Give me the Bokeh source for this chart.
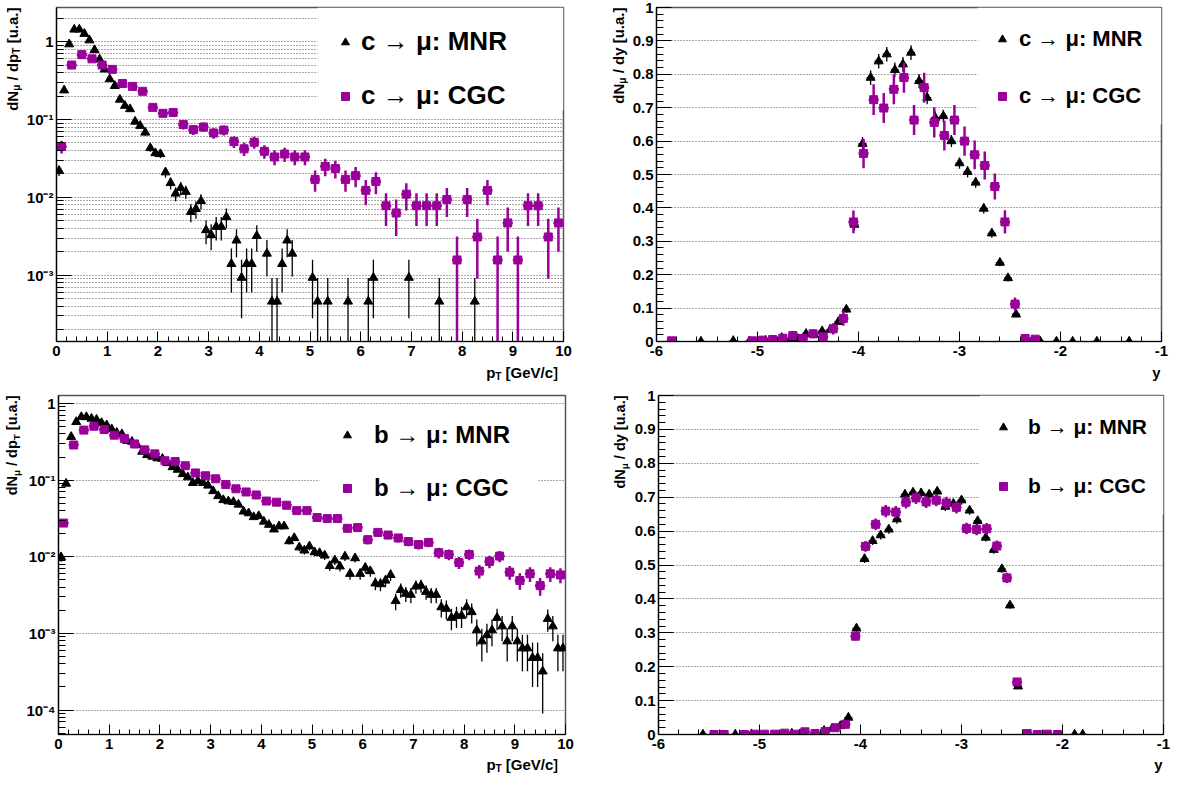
from math import pi
from bokeh.plotting import figure
from bokeh.layouts import row, column
from bokeh.models import (Range1d, FixedTicker, CustomJSTickFormatter, NumeralTickFormatter,
                          Label, Legend, LegendItem, BoxAnnotation)
from bokeh.embed import file_html
from bokeh.resources import INLINE

FONT = "Liberation Sans"
MAG = "#990099"
GRIDC = "#555555"

# ---------------- data: c -> mu, pT ----------------
c_pt_mnr_x = [0.05, 0.15, 0.25, 0.35, 0.45, 0.55, 0.65, 0.75, 0.85, 0.95, 1.05, 1.15, 1.25, 1.35,
              1.45, 1.55, 1.65, 1.75, 1.85, 1.95, 2.05, 2.15, 2.25, 2.35, 2.45, 2.55, 2.65, 2.75,
              2.85, 2.95, 3.05, 3.15, 3.25, 3.35, 3.45, 3.55, 3.65, 3.75, 3.85, 3.95, 4.15, 4.25,
              4.35, 4.45, 4.55, 4.65, 5.05, 5.15, 5.35, 5.75, 6.15, 6.25, 6.95, 7.55, 8.25]
c_pt_mnr_y = [0.022, 0.237, 0.925, 1.43, 1.43, 1.26, 1.04, 0.78, 0.59, 0.44, 0.33, 0.27, 0.18, 0.15,
              0.136, 0.094, 0.083, 0.068, 0.043, 0.037, 0.036, 0.021, 0.0153, 0.0112, 0.0132, 0.0118,
              0.0065, 0.0071, 0.0090, 0.0038, 0.0033, 0.0042, 0.0042, 0.0056, 0.0014, 0.0028, 0.00093,
              0.0014, 0.0014, 0.0032, 0.0019, 0.00046, 0.00046, 0.0014, 0.0028, 0.0019, 0.00093,
              0.00046, 0.00046, 0.00046, 0.00046, 0.00093, 0.00093, 0.00046, 0.00046]
c_pt_mnr_err = [0.0032, 0.0104, 0.0206, 0.0256, 0.0256, 0.024, 0.022, 0.019, 0.0165, 0.0142, 0.0123,
                0.011, 0.0091, 0.0083, 0.0079, 0.0066, 0.0062, 0.0056, 0.0044, 0.0041, 0.0041, 0.0031,
                0.0027, 0.0023, 0.0025, 0.0023, 0.0017, 0.0018, 0.002, 0.0013, 0.0012, 0.0014, 0.0014,
                0.0016, 0.0008, 0.0011, 0.00065, 0.0008, 0.0008, 0.0012, 0.00094, 0.00046, 0.00046,
                0.0008, 0.0011, 0.00094, 0.00065, 0.00046, 0.00046, 0.00046, 0.00046, 0.00065, 0.00065,
                0.00046, 0.00046]

c_pt_cgc_x = [0.1, 0.3, 0.5, 0.7, 0.9, 1.1, 1.3, 1.5, 1.7, 1.9, 2.1, 2.3, 2.5, 2.7, 2.9, 3.1, 3.3,
              3.5, 3.7, 3.9, 4.1, 4.3, 4.5, 4.7, 4.9, 5.1, 5.3, 5.5, 5.7, 5.9, 6.1, 6.3, 6.5, 6.7,
              6.9, 7.1, 7.3, 7.5, 7.7, 7.9, 8.1, 8.3, 8.5, 8.7, 8.9, 9.1, 9.3, 9.5, 9.7, 9.9]
c_pt_cgc_y = [0.045, 0.50, 0.68, 0.60, 0.50, 0.44, 0.29, 0.266, 0.23, 0.143, 0.12, 0.123, 0.086,
              0.074, 0.080, 0.067, 0.073, 0.052, 0.042, 0.051, 0.039, 0.033, 0.036, 0.033, 0.033,
              0.017, 0.025, 0.0235, 0.017, 0.019, 0.0123, 0.016, 0.0078, 0.0063, 0.011, 0.0078,
              0.0078, 0.0078, 0.0094, 0.00157, 0.0094, 0.0031, 0.0123, 0.00157, 0.0047, 0.00157,
              0.0078, 0.0078, 0.0031, 0.0047]
c_pt_cgc_err = [0.0084, 0.028, 0.033, 0.031, 0.028, 0.026, 0.021, 0.020, 0.019, 0.015, 0.0137,
                0.0139, 0.0116, 0.0108, 0.0112, 0.0103, 0.0107, 0.009, 0.0081, 0.0089, 0.0078,
                0.0072, 0.0075, 0.0072, 0.0072, 0.0052, 0.0063, 0.0061, 0.0052, 0.0055, 0.0044,
                0.005, 0.0035, 0.0031, 0.0042, 0.0035, 0.0035, 0.0035, 0.0038, 0.00157, 0.0038,
                0.0022, 0.0044, 0.00157, 0.0027, 0.00157, 0.0035, 0.0035, 0.0022, 0.0027]

# ---------------- data: c -> mu, y ----------------
c_y_mnr_x = [-5.56, -5.24, -5.08, -4.92, -4.84, -4.76, -4.68, -4.60, -4.52, -4.44, -4.36, -4.28,
             -4.20, -4.12, -4.04, -3.96, -3.88, -3.80, -3.72, -3.64, -3.56, -3.48, -3.40, -3.32,
             -3.24, -3.16, -3.08, -3.00, -2.92, -2.84, -2.76, -2.68, -2.60, -2.52, -2.44, -2.36,
             -2.28, -2.20, -2.04, -1.88, -1.64, -1.32]
c_y_mnr_y = [0.0, 0.002, 0.001, 0.003, 0.002, 0.011, 0.005, 0.008, 0.023, 0.020, 0.031, 0.035,
             0.059, 0.096, 0.350, 0.592, 0.790, 0.839, 0.860, 0.813, 0.830, 0.865, 0.780, 0.730,
             0.670, 0.675, 0.600, 0.534, 0.508, 0.476, 0.398, 0.324, 0.236, 0.190, 0.081, 0.006,
             0.003, 0.0, 0.0, 0.0, 0.0, 0.0]
c_y_mnr_err = [0.001, 0.002, 0.001, 0.002, 0.002, 0.004, 0.003, 0.003, 0.005, 0.005, 0.006, 0.007,
               0.008, 0.010, 0.018, 0.020, 0.022, 0.022, 0.022, 0.022, 0.022, 0.022, 0.021, 0.020,
               0.019, 0.019, 0.018, 0.017, 0.017, 0.016, 0.015, 0.013, 0.011, 0.010, 0.007, 0.002,
               0.002, 0.001, 0.001, 0.001, 0.001, 0.001]

c_y_cgc_x = [-5.85, -5.05, -4.95, -4.85, -4.75, -4.65, -4.55, -4.45, -4.35, -4.25, -4.15, -4.05,
             -3.95, -3.85, -3.75, -3.65, -3.55, -3.45, -3.35, -3.25, -3.15, -3.05, -2.95, -2.85,
             -2.75, -2.65, -2.55, -2.45, -2.35, -2.25]
c_y_cgc_y = [0.002, 0.002, 0.004, 0.006, 0.010, 0.018, 0.009, 0.023, 0.014, 0.038, 0.069, 0.358,
             0.563, 0.724, 0.699, 0.755, 0.790, 0.663, 0.760, 0.656, 0.617, 0.663, 0.600, 0.559,
             0.527, 0.464, 0.358, 0.112, 0.009, 0.007]
c_y_cgc_err = [0.004, 0.004, 0.006, 0.007, 0.009, 0.012, 0.009, 0.013, 0.011, 0.017, 0.022, 0.034,
               0.044, 0.046, 0.045, 0.045, 0.045, 0.045, 0.045, 0.045, 0.045, 0.045, 0.044, 0.043,
               0.042, 0.039, 0.035, 0.020, 0.005, 0.004]

# ---------------- data: b -> mu, pT ----------------
b_pt_mnr_x = [0.05, 0.15, 0.25, 0.35, 0.45, 0.55, 0.65, 0.75, 0.85, 0.95, 1.05, 1.15, 1.25, 1.35,
              1.45, 1.55, 1.65, 1.75, 1.85, 1.95, 2.05, 2.15, 2.25, 2.35, 2.45, 2.55, 2.65, 2.75,
              2.85, 2.95, 3.05, 3.15, 3.25, 3.35, 3.45, 3.55, 3.65, 3.75, 3.85, 3.95, 4.05, 4.15,
              4.25, 4.35, 4.45, 4.55, 4.65, 4.75, 4.85, 4.95, 5.05, 5.15, 5.25, 5.35, 5.45, 5.55,
              5.65, 5.75, 5.85, 5.95, 6.05, 6.15, 6.25, 6.35, 6.45, 6.55, 6.65, 6.75, 6.85, 6.95,
              7.05, 7.15, 7.25, 7.35, 7.45, 7.55, 7.65, 7.75, 7.85, 7.95, 8.05, 8.15, 8.25, 8.35,
              8.45, 8.55, 8.65, 8.75, 8.85, 8.95, 9.05, 9.15, 9.25, 9.35, 9.45, 9.55, 9.65, 9.75,
              9.85, 9.95]
b_pt_mnr_y = [0.0099, 0.090, 0.367, 0.574, 0.666, 0.666, 0.634, 0.616, 0.557, 0.52, 0.462, 0.414,
              0.398, 0.327, 0.317, 0.287, 0.235, 0.213, 0.203, 0.193, 0.19, 0.167, 0.148, 0.137,
              0.12, 0.109, 0.092, 0.098, 0.092, 0.085, 0.072, 0.062, 0.055, 0.053, 0.052, 0.048,
              0.039, 0.037, 0.033, 0.034, 0.0288, 0.0262, 0.0228, 0.025, 0.025, 0.016, 0.0176,
              0.0133, 0.0121, 0.0137, 0.0115, 0.0112, 0.0104, 0.0076, 0.0090, 0.0075, 0.0101,
              0.006, 0.0096, 0.006, 0.0072, 0.0065, 0.0045, 0.0044, 0.0049, 0.0058, 0.00265,
              0.0037, 0.0033, 0.0032, 0.0041, 0.0042, 0.0035, 0.0032, 0.0032, 0.0022, 0.0021,
              0.0016, 0.0017, 0.0017, 0.0022, 0.0019, 0.0011, 0.00079, 0.00095, 0.0011, 0.0016,
              0.00124, 0.00079, 0.00124, 0.00079, 0.00064, 0.00064, 0.00048, 0.00048, 0.00032,
              0.00155, 0.00124, 0.00064, 0.00064]
b_pt_mnr_err = [0.00126, 0.0038, 0.0077, 0.0096, 0.0103, 0.0103, 0.0101, 0.0099, 0.0094, 0.0091,
                0.0086, 0.0081, 0.008, 0.0072, 0.0071, 0.0068, 0.0061, 0.0058, 0.0057, 0.0056,
                0.0055, 0.0052, 0.0049, 0.0047, 0.0044, 0.0042, 0.0038, 0.004, 0.0038, 0.0037,
                0.0034, 0.0031, 0.003, 0.0029, 0.0029, 0.0028, 0.0025, 0.0024, 0.0023, 0.0023,
                0.0021, 0.002, 0.0019, 0.002, 0.002, 0.0016, 0.0017, 0.0015, 0.0014, 0.0015,
                0.0014, 0.0013, 0.0013, 0.0011, 0.0012, 0.0011, 0.0013, 0.001, 0.0012, 0.001,
                0.0011, 0.001, 0.00085, 0.00084, 0.00089, 0.00096, 0.00065, 0.00077, 0.00073,
                0.00072, 0.00081, 0.00082, 0.00075, 0.00072, 0.00072, 0.00059, 0.00058, 0.0005,
                0.00052, 0.00052, 0.00059, 0.00055, 0.00042, 0.00036, 0.00039, 0.00042, 0.0005,
                0.00045, 0.00036, 0.00045, 0.00036, 0.00032, 0.00032, 0.00028, 0.00028, 0.00023,
                0.0005, 0.00045, 0.00032, 0.00032]

b_pt_cgc_x = [0.1, 0.3, 0.5, 0.7, 0.9, 1.1, 1.3, 1.5, 1.7, 1.9, 2.1, 2.3, 2.5, 2.7, 2.9, 3.1, 3.3,
              3.5, 3.7, 3.9, 4.1, 4.3, 4.5, 4.7, 4.9, 5.1, 5.3, 5.5, 5.7, 5.9, 6.1, 6.3, 6.5, 6.7,
              6.9, 7.1, 7.3, 7.5, 7.7, 7.9, 8.1, 8.3, 8.5, 8.7, 8.9, 9.1, 9.3, 9.5, 9.7, 9.9]
b_pt_cgc_y = [0.0275, 0.287, 0.449, 0.505, 0.457, 0.386, 0.35, 0.296, 0.248, 0.22, 0.179, 0.175,
              0.154, 0.124, 0.114, 0.104, 0.0875, 0.077, 0.070, 0.064, 0.0533, 0.0516, 0.047,
              0.040, 0.040, 0.0325, 0.0315, 0.0315, 0.0235, 0.024, 0.0167, 0.0208, 0.0192, 0.0176,
              0.0158, 0.0144, 0.0154, 0.0113, 0.0107, 0.0084, 0.0107, 0.0065, 0.0087, 0.0102,
              0.0063, 0.0049, 0.006, 0.0042, 0.006, 0.0058]
b_pt_cgc_err = [0.0028, 0.009, 0.0112, 0.0119, 0.0113, 0.0104, 0.0099, 0.0091, 0.0083, 0.0078,
                0.0071, 0.007, 0.0066, 0.0059, 0.0056, 0.0054, 0.0049, 0.0046, 0.0044, 0.0042,
                0.0039, 0.0038, 0.0036, 0.0033, 0.0033, 0.003, 0.003, 0.003, 0.0026, 0.0026,
                0.0022, 0.0024, 0.0023, 0.0022, 0.0021, 0.002, 0.0021, 0.0018, 0.0017, 0.0015,
                0.0017, 0.0013, 0.0016, 0.0017, 0.0013, 0.0012, 0.0013, 0.0011, 0.0013, 0.0013]

# ---------------- data: b -> mu, y ----------------
b_y_mnr_x = [-5.56, -5.24, -5.08, -4.68, -4.60, -4.36, -4.28, -4.20, -4.12, -4.04, -3.96, -3.88,
             -3.80, -3.72, -3.64, -3.56, -3.48, -3.40, -3.32, -3.24, -3.16, -3.08, -3.00, -2.92,
             -2.84, -2.76, -2.68, -2.60, -2.52, -2.44, -1.88, -1.80]
b_y_mnr_y = [0.0, 0.0, 0.001, 0.003, 0.001, 0.011, 0.018, 0.025, 0.050, 0.313, 0.518, 0.571,
             0.588, 0.605, 0.635, 0.708, 0.714, 0.712, 0.708, 0.717, 0.672, 0.681, 0.691, 0.661,
             0.630, 0.581, 0.545, 0.488, 0.381, 0.142, 0.0, 0.0]
b_y_mnr_err = [0.001, 0.001, 0.001, 0.002, 0.001, 0.003, 0.004, 0.004, 0.006, 0.010, 0.012, 0.012,
               0.013, 0.013, 0.013, 0.013, 0.013, 0.013, 0.013, 0.013, 0.013, 0.013, 0.013, 0.013,
               0.012, 0.012, 0.012, 0.011, 0.010, 0.006, 0.001, 0.001]

b_y_cgc_x = [-5.45, -5.35, -5.15, -5.05, -4.95, -4.85, -4.75, -4.65, -4.55, -4.45, -4.35, -4.25,
             -4.15, -4.05, -3.95, -3.85, -3.75, -3.65, -3.55, -3.45, -3.35, -3.25, -3.15, -3.05,
             -2.95, -2.85, -2.75, -2.65, -2.55, -2.45, -2.35, -2.25, -2.15, -2.05]
b_y_cgc_y = [0.0, 0.0, 0.0, 0.001, 0.001, 0.001, 0.004, 0.001, 0.008, 0.003, 0.009, 0.020, 0.030,
             0.290, 0.555, 0.620, 0.659, 0.656, 0.685, 0.698, 0.686, 0.691, 0.683, 0.670, 0.608,
             0.605, 0.607, 0.556, 0.462, 0.155, 0.003, 0.0, 0.001, 0.0]
b_y_cgc_err = [0.001, 0.001, 0.001, 0.001, 0.001, 0.001, 0.002, 0.001, 0.003, 0.002, 0.003, 0.004,
               0.005, 0.012, 0.016, 0.017, 0.018, 0.018, 0.018, 0.018, 0.018, 0.018, 0.018, 0.018,
               0.017, 0.017, 0.017, 0.016, 0.015, 0.009, 0.002, 0.001, 0.001, 0.001]

# bin half widths
PT_MNR_HW, PT_CGC_HW = 0.05, 0.1
Y_MNR_HW, Y_CGC_HW = 0.04, 0.05

legend_c = ["c \u2192 \u03bc: MNR", "c \u2192 \u03bc: CGC"]
legend_b = ["b \u2192 \u03bc: MNR", "b \u2192 \u03bc: CGC"]

# ---------------- helpers ----------------
# Arial/Liberation Sans Bold advance widths (em)
WID = {' ': 0.278, '/': 0.278, '[': 0.333, ']': 0.333, '.': 0.278, 'a': 0.556, 'c': 0.556,
       'd': 0.611, 'e': 0.556, 'p': 0.611, 'u': 0.611, 'y': 0.556, 'G': 0.778, 'N': 0.722,
       'T': 0.611, 'V': 0.667, '\u03bc': 0.611}


def tw(s, size):
    return sum(WID.get(ch, 0.6) for ch in s) * size


LOG_FMT = CustomJSTickFormatter(code=r"""
const e = Math.round(Math.log10(tick));
if (e === 0) { return "1"; }
const s = {"-": "\u207b", "0": "\u2070", "1": "\u00b9", "2": "\u00b2", "3": "\u00b3", "4": "\u2074", "5": "\u2075"};
return "10" + String(e).split("").map(c => s[c]).join("");
""")


def make_fig(xr, yr, log, left, right, top, bottom, fh, fw):
    p = figure(frame_width=fw, frame_height=fh, x_range=Range1d(*xr), y_range=Range1d(*yr),
               y_axis_type="log" if log else "linear", output_backend="svg",
               toolbar_location=None, tools="",
               min_border_left=left, min_border_right=right, min_border_top=top,
               min_border_bottom=bottom)
    p.background_fill_color = "white"
    p.border_fill_color = "white"
    p.outline_line_color = "#555555"
    p.outline_line_width = 1.5
    for ax in (p.xaxis[0], p.yaxis[0]):
        ax.axis_line_color = "black"
        ax.axis_line_width = 1.2
        ax.major_tick_line_color = "black"
        ax.minor_tick_line_color = "black"
        ax.major_tick_out = 0
        ax.minor_tick_out = 0
        ax.major_label_text_font = FONT
        ax.major_label_text_font_style = "bold"
        ax.major_label_text_font_size = "15px"
        ax.major_label_text_color = "black"
    p.xaxis.major_label_standoff = 4
    p.yaxis.major_label_standoff = 3
    p.xaxis.major_tick_in = 10
    p.xaxis.minor_tick_in = 5
    p.yaxis.major_tick_in = 15
    p.yaxis.minor_tick_in = 7
    p.xgrid.visible = False
    p.ygrid.grid_line_color = GRIDC
    p.ygrid.grid_line_dash = "1 2"
    p.ygrid.grid_line_width = 1
    return p


def strip(width, height, xr, yr, bl=0, br=0, bt=0, bb=0):
    s = figure(width=width, height=height, x_range=Range1d(0, xr), y_range=Range1d(0, yr),
               x_axis_location=None, y_axis_location=None, toolbar_location=None, tools="",
               output_backend="svg", min_border_left=bl, min_border_right=br,
               min_border_top=bt, min_border_bottom=bb)
    s.outline_line_color = None
    s.background_fill_color = "white"
    s.border_fill_color = "white"
    s.grid.visible = False
    return s


def draw_series(p, xs, ys, errs, hw, color, marker, size, lw, log):
    lo = [max(y - e, 1e-7) if log else y - e for y, e in zip(ys, errs)]
    hi = [y + e for y, e in zip(ys, errs)]
    p.segment(x0=xs, y0=lo, x1=xs, y1=hi, line_color=color, line_width=lw)
    p.segment(x0=[x - hw for x in xs], y0=ys, x1=[x + hw for x in xs], y1=ys,
              line_color=color, line_width=lw)
    return p.scatter(xs, ys, marker=marker, size=size, fill_color=color, line_color=color)


def rich_label(p, pieces, x, y, size, vertical=False, end=False, sub_shift=4.5):
    sub = size * 0.68
    widths = [tw(t, sub if k == "s" else size) for t, k in pieces]
    pos = (y if vertical else x) - (sum(widths) if end else 0)
    for (t, k), w in zip(pieces, widths):
        fs = sub if k == "s" else size
        sh = sub_shift if k == "s" else 0
        if t.strip():
            common = dict(text=t, text_font=FONT, text_font_style="bold",
                          text_font_size=f"{fs:.1f}px", text_color="black",
                          text_baseline="middle", text_align="left")
            if vertical:
                lab = Label(x=x + sh, y=pos, angle=pi / 2, **common)
            else:
                lab = Label(x=pos, y=y - sh, **common)
            p.add_layout(lab)
        pos += w


def add_legend(p, labels, rends, loc, fsize, standoff, item_h, spacing):
    lg = Legend(items=[LegendItem(label=t, renderers=[r]) for t, r in zip(labels, rends)],
                location=loc, orientation="vertical", glyph_width=20, glyph_height=item_h,
                label_height=item_h, spacing=spacing, padding=0, margin=0,
                label_standoff=standoff, background_fill_alpha=0, border_line_alpha=0,
                label_text_font=FONT, label_text_font_style="bold",
                label_text_font_size=f"{fsize}px", label_text_color="black")
    p.add_layout(lg)


def white_box(p, **kw):
    p.add_layout(BoxAnnotation(fill_color="white", fill_alpha=1.0, line_alpha=0,
                               level="underlay", **kw))


log_major = [1e-4, 1e-3, 1e-2, 1e-1, 1.0]
log_minor = [m * 10.0 ** e for e in range(-5, 1) for m in range(2, 10)]
lin_major = [i / 10 for i in range(11)]
lin_minor = [i / 50 for i in range(51)]
pt_major = list(range(11))
pt_minor = [i / 5 for i in range(51)]
y_major = [-6, -5, -4, -3, -2, -1]
y_minor = [-6 + i / 5 for i in range(26)]

# layout geometry (px)
LW, RW = 507, 505                 # frame widths
L_BL, L_BR = 27, 35               # left panel borders
R_BL, R_BR = 26, 8                # right panel borders
YS_L, YS_R = 23, 31               # y-title strips
TOP_T, TOP_H, TOP_B, TOP_X = 7, 334, 22, 20
BOT_T, BOT_H, BOT_B, BOT_X = 12, 339, 22, 18
TOP_FIG = TOP_T + TOP_H + TOP_B
BOT_FIG = BOT_T + BOT_H + BOT_B

PT_TITLE = [("p", "n"), ("T", "s"), (" ", "n"), ("[GeV/c]", "n")]
PT_YTITLE = [("dN", "n"), ("\u03bc", "s"), (" ", "n"), ("/", "n"), (" ", "n"), ("dp", "n"),
             ("T", "s"), (" ", "n"), ("[u.a.]", "n")]
Y_YTITLE = [("dN", "n"), ("\u03bc", "s"), (" ", "n"), ("/", "n"), (" ", "n"), ("dy", "n"),
            (" ", "n"), ("[u.a.]", "n")]


def ytitle_strip(w, fig_h, top, frame_h, bottom, pieces, xc, size):
    s = strip(w, fig_h, w, frame_h, bt=top, bb=bottom)
    rich_label(s, pieces, xc, frame_h, size, vertical=True, end=True, sub_shift=4)
    return s


def xtitle_strip(bl, fw, br, h, pieces, yc):
    s = strip(bl + fw + br, h, fw, h, bl=bl, br=br)
    rich_label(s, pieces, fw, yc, 15, end=True, sub_shift=3.5)
    return s


# ---------------- top-left: c -> mu vs pT ----------------
p1 = make_fig((0, 10), (1.41e-4, 2.74), True, L_BL, L_BR, TOP_T, TOP_B, TOP_H, LW)
p1.xaxis.ticker = FixedTicker(ticks=pt_major, minor_ticks=pt_minor)
p1.yaxis.ticker = FixedTicker(ticks=log_major, minor_ticks=log_minor)
p1.yaxis.formatter = LOG_FMT
p1.ygrid.minor_grid_line_color = GRIDC
p1.ygrid.minor_grid_line_dash = "1 2"
white_box(p1, left=5.15, bottom=0.13)
r1a = draw_series(p1, c_pt_mnr_x, c_pt_mnr_y, c_pt_mnr_err, PT_MNR_HW, "black", "triangle", 9, 1.3, True)
r1b = draw_series(p1, c_pt_cgc_x, c_pt_cgc_y, c_pt_cgc_err, PT_CGC_HW, MAG, "square", 8, 2.5, True)
add_legend(p1, legend_c, [r1a, r1b], (279, 230), 26, 6, 30, 23)
ys1 = ytitle_strip(YS_L, TOP_FIG, TOP_T, TOP_H, TOP_B, PT_YTITLE, 11.5, 15)
xs1 = xtitle_strip(L_BL, LW, L_BR, TOP_X, PT_TITLE, 11)

# ---------------- top-right: c -> mu vs y ----------------
p2 = make_fig((-6, -1), (0, 1), False, R_BL, R_BR, TOP_T, TOP_B, TOP_H, RW)
p2.xaxis.ticker = FixedTicker(ticks=y_major, minor_ticks=y_minor)
p2.yaxis.ticker = FixedTicker(ticks=lin_major, minor_ticks=lin_minor)
p2.yaxis.formatter = NumeralTickFormatter(format="0.[0]")
p2.xaxis.formatter = NumeralTickFormatter(format="0")
white_box(p2, left=-2.82, bottom=0.65)
r2a = draw_series(p2, c_y_mnr_x, c_y_mnr_y, c_y_mnr_err, Y_MNR_HW, "black", "triangle", 9, 1.3, False)
r2b = draw_series(p2, c_y_cgc_x, c_y_cgc_y, c_y_cgc_err, Y_CGC_HW, MAG, "square", 8, 2.5, False)
add_legend(p2, legend_c, [r2a, r2b], (336, 230), 22, 7, 30, 27)
ys2 = ytitle_strip(YS_R, TOP_FIG, TOP_T, TOP_H, TOP_B, Y_YTITLE, 19.5, 15)
xs2 = xtitle_strip(R_BL, RW, R_BR, TOP_X, [("y", "n")], 11)

# ---------------- bottom-left: b -> mu vs pT ----------------
p3 = make_fig((0, 10), (4.8e-5, 1.27), True, L_BL, L_BR, BOT_T, BOT_B, BOT_H, LW)
p3.xaxis.ticker = FixedTicker(ticks=pt_major, minor_ticks=pt_minor)
p3.yaxis.ticker = FixedTicker(ticks=log_major, minor_ticks=log_minor)
p3.yaxis.formatter = LOG_FMT
white_box(p3, left=5.15, right=9.45, bottom=0.045, top=0.9)
r3a = draw_series(p3, b_pt_mnr_x, b_pt_mnr_y, b_pt_mnr_err, PT_MNR_HW, "black", "triangle", 9, 1.3, True)
r3b = draw_series(p3, b_pt_cgc_x, b_pt_cgc_y, b_pt_cgc_err, PT_CGC_HW, MAG, "square", 8, 2.5, True)
add_legend(p3, legend_b, [r3a, r3b], (279, 231), 24, 17, 30, 23)
ys3 = ytitle_strip(YS_L, BOT_FIG, BOT_T, BOT_H, BOT_B, PT_YTITLE, 11.5, 14.5)
xs3 = xtitle_strip(L_BL, LW, L_BR, BOT_X, PT_TITLE, 10)

# ---------------- bottom-right: b -> mu vs y ----------------
p4 = make_fig((-6, -1), (0, 1), False, R_BL, R_BR, BOT_T, BOT_B, BOT_H, RW)
p4.xaxis.ticker = FixedTicker(ticks=y_major, minor_ticks=y_minor)
p4.yaxis.ticker = FixedTicker(ticks=lin_major, minor_ticks=lin_minor)
p4.yaxis.formatter = NumeralTickFormatter(format="0.[0]")
p4.xaxis.formatter = NumeralTickFormatter(format="0")
white_box(p4, left=-2.82, bottom=0.65)
r4a = draw_series(p4, b_y_mnr_x, b_y_mnr_y, b_y_mnr_err, Y_MNR_HW, "black", "triangle", 9, 1.3, False)
r4b = draw_series(p4, b_y_cgc_x, b_y_cgc_y, b_y_cgc_err, Y_CGC_HW, MAG, "square", 8, 2.5, False)
add_legend(p4, legend_b, [r4a, r4b], (335, 233), 21, 15, 30, 29)
ys4 = ytitle_strip(YS_R, BOT_FIG, BOT_T, BOT_H, BOT_B, Y_YTITLE, 19.5, 14.5)
xs4 = xtitle_strip(R_BL, RW, R_BR, BOT_X, [("y", "n")], 10)

layout = column(
    row(row(ys1, column(p1, xs1)), row(ys2, column(p2, xs2))),
    row(row(ys3, column(p3, xs3)), row(ys4, column(p4, xs4))),
)
open("out.html", "w").write(file_html(layout, INLINE))
